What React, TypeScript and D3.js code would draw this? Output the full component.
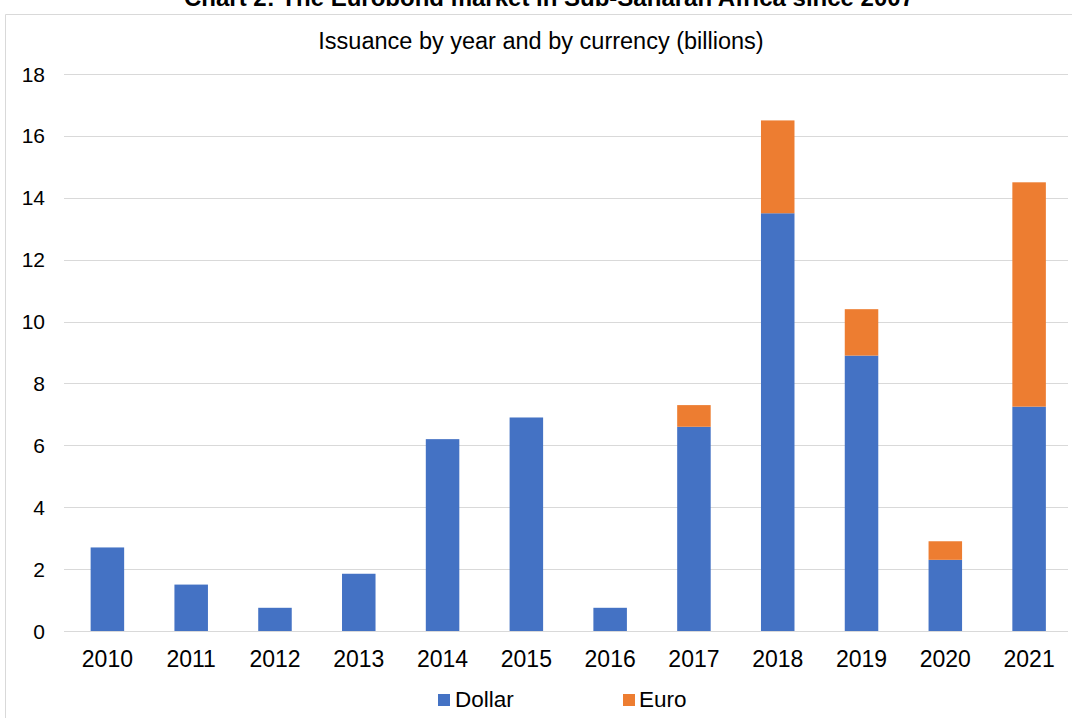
import React from "react";
import * as d3 from "d3";

const years = ["2010", "2011", "2012", "2013", "2014", "2015", "2016", "2017", "2018", "2019", "2020", "2021"];
const dollar = [2.7, 1.5, 0.75, 1.85, 6.2, 6.9, 0.75, 6.6, 13.5, 8.9, 2.3, 7.25];
const euro = [0, 0, 0, 0, 0, 0, 0, 0.7, 3.0, 1.5, 0.6, 7.25];
const yTicks = [0, 2, 4, 6, 8, 10, 12, 14, 16, 18];
const seriesNames = ["Dollar", "Euro"];
const colors = ["#4472C4", "#ED7D31"];

const W = 1072;
const H = 718;
const font = "'Liberation Sans', Arial, sans-serif";

export default function App() {
  const x = d3.scaleBand().domain(years).range([65.5, 1071]).paddingInner(0.6).paddingOuter(0.3);
  const y = d3.scaleLinear().domain([0, 18]).range([631, 74]);

  const rows = years.map((yr, i) => ({ year: yr, Dollar: dollar[i], Euro: euro[i] }));
  const stacked = d3.stack<any>().keys(seriesNames)(rows);

  return (
    <svg width={W} height={H} style={{ position: "absolute", left: 0, top: 0, background: "#fff" }} fontFamily={font}>
      <rect x={0} y={0} width={W} height={H} fill="#fff" />
      <text x={549} y={6} textAnchor="middle" fontSize={24} fontWeight="bold" fill="#000">
        Chart 2: The Eurobond market in Sub-Saharan Africa since 2007
      </text>
      <line x1={5.5} y1={14.5} x2={W} y2={14.5} stroke="#d9d9d9" />
      <line x1={5.5} y1={14.5} x2={5.5} y2={H} stroke="#d9d9d9" />
      <text x={541} y={49} textAnchor="middle" fontSize={23.5} fill="#000">
        Issuance by year and by currency (billions)
      </text>
      {yTicks.map((t) => (
        <g key={t}>
          <line x1={64} x2={1068} y1={Math.round(y(t)) + 0.5} y2={Math.round(y(t)) + 0.5} stroke="#d9d9d9" strokeWidth={1} />
          <text x={45} y={y(t) + 7.5} textAnchor="end" fontSize={21} fill="#000">
            {t}
          </text>
        </g>
      ))}
      {stacked.map((s, si) => (
        <g key={s.key} fill={colors[si]}>
          {s.map((d, i) =>
            d[1] - d[0] > 0 ? (
              <rect
                key={i}
                x={x(years[i])}
                y={y(d[1])}
                width={x.bandwidth()}
                height={y(d[0]) - y(d[1])}
              />
            ) : null
          )}
        </g>
      ))}
      {years.map((yr) => (
        <text key={yr} x={(x(yr) as number) + x.bandwidth() / 2} y={667} textAnchor="middle" fontSize={23} fill="#000">
          {yr}
        </text>
      ))}
      <g>
        <rect x={438} y={694} width={12} height={12} fill={colors[0]} />
        <text x={455} y={707} fontSize={22.5} fill="#000">{seriesNames[0]}</text>
        <rect x={623} y={694} width={12} height={12} fill={colors[1]} />
        <text x={639} y={707} fontSize={22.5} fill="#000">{seriesNames[1]}</text>
      </g>
    </svg>
  );
}
